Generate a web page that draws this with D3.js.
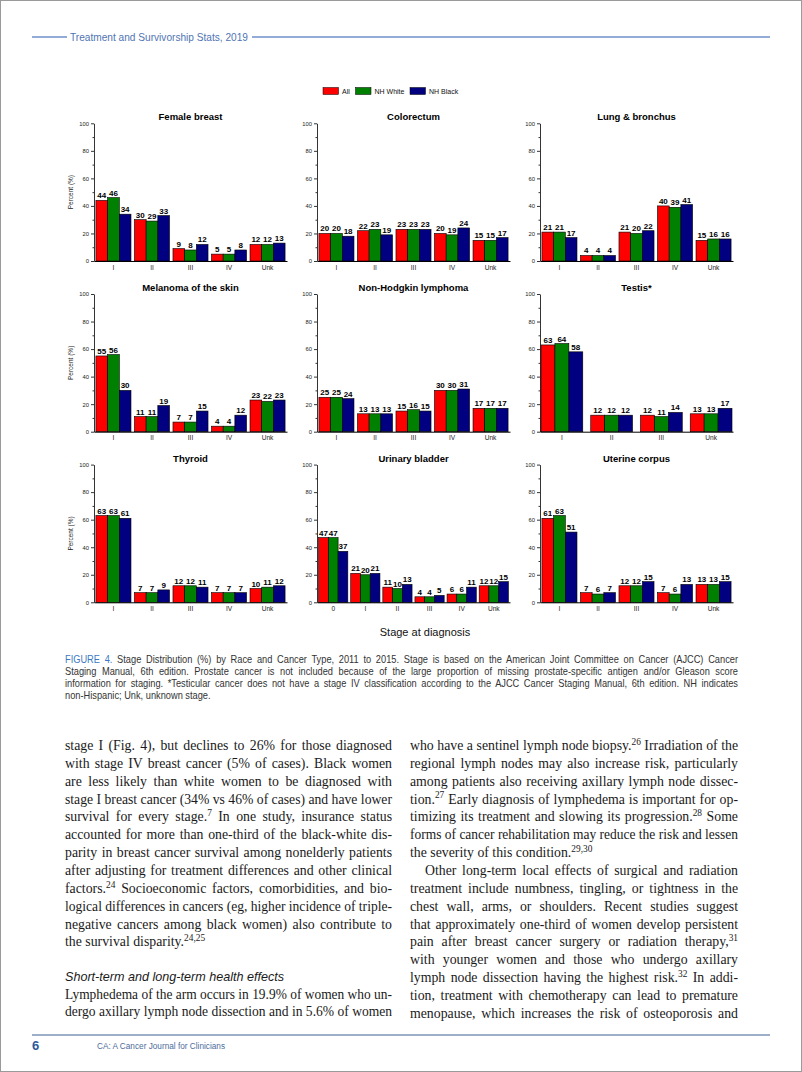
<!DOCTYPE html>
<html><head><meta charset="utf-8">
<script src="https://cdn.jsdelivr.net/npm/d3@7"></script>
<style>body{margin:0;background:#fff}svg{display:block}</style>
</head><body><svg id="page" width="802" height="1072"></svg>
<script>
// ---------- DATA ----------
const cancerTypes = ["Female breast","Colorectum","Lung & bronchus","Melanoma of the skin","Non-Hodgkin lymphoma","Testis*","Thyroid","Urinary bladder","Uterine corpus"];
const stages5 = ["I","II","III","IV","Unk"];
const stagesTestis = ["I","II","III","Unk"];
const stagesBladder = ["0","I","II","III","IV","Unk"];
const panelStages = [stages5, stages5, stages5, stages5, stages5, stagesTestis, stages5, stagesBladder, stages5];
const seriesNames = ["All","NH White","NH Black"];
const allValues = [
  [44,30,9,5,12],[20,22,23,20,15],[21,4,21,40,15],
  [55,11,7,4,23],[25,13,15,30,17],[63,12,12,13],
  [63,7,12,7,10],[47,21,11,4,6,12],[61,7,12,7,13]
];
const nhWhiteValues = [
  [46,29,8,5,12],[20,23,23,19,15],[21,4,20,39,16],
  [56,11,7,4,22],[25,13,16,30,17],[64,12,11,13],
  [63,7,12,7,11],[47,20,10,4,6,12],[63,6,12,6,13]
];
const nhBlackValues = [
  [34,33,12,8,13],[18,19,23,24,17],[17,4,22,41,16],
  [30,19,15,12,23],[24,13,15,31,17],[58,12,14,17],
  [61,9,11,7,12],[37,21,13,5,11,15],[51,7,15,13,15]
];
const yTicks = [0,20,40,60,80,100];
const yMinorTicks = [10,30,50,70,90];
const seriesColors = ["#ff0000","#008000","#000080"];

const headerText = "Treatment and Survivorship Stats, 2019";
const xAxisTitle = "Stage at diagnosis";
const yAxisTitle = "Percent (%)";
const captionLines = [
  "Stage Distribution (%) by Race and Cancer Type, 2011 to 2015. Stage is based on the American Joint Committee on Cancer (AJCC) Cancer",
  "Staging Manual, 6th edition. Prostate cancer is not included because of the large proportion of missing prostate-specific antigen and/or Gleason score",
  "information for staging. *Testicular cancer does not have a stage IV classification according to the AJCC Cancer Staging Manual, 6th edition. NH indicates",
  "non-Hispanic; Unk, unknown stage."
];
const leftColumn = [
  "stage I (Fig. 4), but declines to 26% for those diagnosed",
  "with stage IV breast cancer (5% of cases). Black women",
  "are less likely than white women to be diagnosed with",
  "stage I breast cancer (34% vs 46% of cases) and have lower",
  "survival for every stage.[7] In one study, insurance status",
  "accounted for more than one-third of the black-white dis-",
  "parity in breast cancer survival among nonelderly patients",
  "after adjusting for treatment differences and other clinical",
  "factors.[24] Socioeconomic factors, comorbidities, and bio-",
  "logical differences in cancers (eg, higher incidence of triple-",
  "negative cancers among black women) also contribute to",
  "the survival disparity.[24,25]"
];
const sectionHeading = "Short-term and long-term health effects";
const leftColumn2 = [
  "Lymphedema of the arm occurs in 19.9% of women who un-",
  "dergo axillary lymph node dissection and in 5.6% of women"
];
const rightColumn = [
  "who have a sentinel lymph node biopsy.[26] Irradiation of the",
  "regional lymph nodes may also increase risk, particularly",
  "among patients also receiving axillary lymph node dissec-",
  "tion.[27] Early diagnosis of lymphedema is important for op-",
  "timizing its treatment and slowing its progression.[28] Some",
  "forms of cancer rehabilitation may reduce the risk and lessen",
  "the severity of this condition.[29,30]",
  "Other long-term local effects of surgical and radiation",
  "treatment include numbness, tingling, or tightness in the",
  "chest wall, arms, or shoulders. Recent studies suggest",
  "that approximately one-third of women develop persistent",
  "pain after breast cancer surgery or radiation therapy,[31]",
  "with younger women and those who undergo axillary",
  "lymph node dissection having the highest risk.[32] In addi-",
  "tion, treatment with chemotherapy can lead to premature",
  "menopause, which increases the risk of osteoporosis and"
];
const footerPage = "6";
const footerJournal = "CA: A Cancer Journal for Clinicians";

// ---------- DRAW ----------
const svg = d3.select("#page");
const SANS = "'Liberation Sans', Arial, sans-serif";
const SERIF = "'Liberation Serif', 'Times New Roman', serif";

svg.append("rect").attr("x",0.5).attr("y",0.5).attr("width",801).attr("height",1071)
  .attr("fill","#fff").attr("stroke","#9a9a9a");

// header
const hdrColor = "#6f8fca";
svg.append("line").attr("x1",32).attr("x2",67).attr("y1",37).attr("y2",37).attr("stroke",hdrColor).attr("stroke-width",1.6);
svg.append("line").attr("x1",252).attr("x2",770).attr("y1",37).attr("y2",37).attr("stroke",hdrColor).attr("stroke-width",1.6);
svg.append("text").attr("x",70).attr("y",40.5).attr("font-family",SANS).attr("font-size",10.5)
  .attr("fill","#4f74b3").attr("textLength",178).attr("lengthAdjust","spacingAndGlyphs").text(headerText);

// legend
const legend = svg.append("g").attr("font-family",SANS).attr("font-size",7);
const legX = [323, 355.5, 410];
seriesNames.forEach((s,k)=>{
  legend.append("rect").attr("x",legX[k]).attr("y",87.5).attr("width",15.5).attr("height",7)
    .attr("fill",seriesColors[k]).attr("stroke","#000").attr("stroke-width",0.5);
  legend.append("text").attr("x",legX[k]+19).attr("y",93.8).attr("fill","#111").text(s);
});

// panels
const colX = [94, 317, 540];
const rowY0 = [261, 431.7, 602.3];
const plotW = 193, plotH = 137.7;
cancerTypes.forEach((name,i)=>{
  const c = i%3, r = Math.floor(i/3);
  const g = svg.append("g").attr("transform",`translate(${colX[c]},${rowY0[r]-plotH})`);
  const stages = panelStages[i];
  const x = d3.scaleBand().domain(stages).range([0,plotW])
    .paddingInner(stages.length===4 ? 0.16 : 0.09).paddingOuter(stages.length===4 ? 0.02 : 0.05);
  const xs = d3.scaleBand().domain(seriesNames).range([0,x.bandwidth()]);
  const y = d3.scaleLinear().domain([0,100]).range([plotH,0]);
  const vals = [allValues[i], nhWhiteValues[i], nhBlackValues[i]];

  g.append("text").attr("x",plotW/2).attr("y",-3).attr("text-anchor","middle")
    .attr("font-family",SANS).attr("font-weight","bold").attr("font-size",9.5).attr("fill","#000").text(name);

  const rows = [];
  stages.forEach((st,j)=>seriesNames.forEach((s,k)=>rows.push({st, s, k, v: vals[k][j]})));
  g.selectAll("rect.bar").data(rows).join("rect").attr("class","bar")
    .attr("x",d=>x(d.st)+xs(d.s)).attr("width",xs.bandwidth())
    .attr("y",d=>y(d.v)).attr("height",d=>plotH-y(d.v))
    .attr("fill",d=>seriesColors[d.k]).attr("stroke","#000").attr("stroke-width",0.6);
  g.selectAll("text.val").data(rows).join("text").attr("class","val")
    .attr("x",d=>x(d.st)+xs(d.s)+xs.bandwidth()/2).attr("y",d=>y(d.v)-2)
    .attr("text-anchor","middle").attr("font-family",SANS).attr("font-weight","bold")
    .attr("font-size",8).attr("fill","#000").text(d=>d.v);

  const ya = g.append("g").call(d3.axisLeft(y).tickValues(yTicks).tickSize(3).tickSizeOuter(0).tickPadding(2));
  const ym = g.append("g").call(d3.axisLeft(y).tickValues(yMinorTicks).tickSize(1.5).tickFormat(""));
  ym.select(".domain").remove();
  [ya,ym].forEach(a=>{a.selectAll("path,line").attr("stroke","#000").attr("stroke-width",0.8);});
  ya.selectAll("text").attr("font-family",SANS).attr("font-size",5.8).attr("fill","#222");

  const xa = g.append("g").attr("transform",`translate(0,${plotH})`)
    .call(d3.axisBottom(x).tickSize(0).tickSizeOuter(0).tickPadding(4));
  xa.select(".domain").attr("stroke","#000").attr("stroke-width",1);
  xa.selectAll("text").attr("font-family",SANS).attr("font-size",6.6).attr("fill","#222");

  if (c===0) {
    g.append("text").attr("transform",`translate(-21,${plotH/2}) rotate(-90)`).attr("text-anchor","middle")
      .attr("font-family",SANS).attr("font-size",6.5).attr("fill","#222").text(yAxisTitle);
  }
});

svg.append("text").attr("x",425).attr("y",636).attr("text-anchor","middle")
  .attr("font-family",SANS).attr("font-size",11).attr("fill","#111").text(xAxisTitle);

// rich / justified text
function richLine(parent, str, x, y, opts){
  const t = parent.append("text").attr("x",x).attr("y",y)
    .attr("font-family",opts.family).attr("font-size",opts.size).attr("fill",opts.fill)
    .attr("font-style",opts.style||null).attr("font-weight",opts.weight||null);
  if (opts.prefix){
    t.append("tspan").attr("fill",opts.prefix.fill).text(opts.prefix.text);
  }
  const parts = str.split(/\[([^\]]+)\]/);
  let shift = 0;
  parts.forEach((p,k)=>{
    if (!p) return;
    if (k%2===1){
      t.append("tspan").attr("dy",-opts.size*0.38).attr("font-size",opts.size*0.68).text(p);
      shift = opts.size*0.38;
    } else {
      const ts = t.append("tspan").text(p);
      if (shift){ ts.attr("dy",shift); shift=0; }
    }
  });
  const natural = t.node().getComputedTextLength();
  if (opts.width){
    if (natural > opts.width){
      t.attr("textLength",opts.width).attr("lengthAdjust","spacingAndGlyphs");
    } else {
      const full = (opts.prefix?opts.prefix.text:"")+str.replace(/\[[^\]]+\]/g,"");
      const spaces = (full.match(/ /g)||[]).length;
      if (spaces>0) t.attr("word-spacing",(opts.width-natural)/spaces);
    }
  }
  return t;
}

// caption (condensed face emulated by horizontal scaling)
const capScale = 0.9;
captionLines.forEach((ln,k)=>{
  const cg = svg.append("g").attr("transform",`translate(65,${662.5+k*12}) scale(${capScale},1)`);
  const o = {family:SANS, size:10.3, fill:"#333"};
  if (k<3) o.width = 673/capScale;
  if (k===0) o.prefix = {text:"FIGURE 4. ", fill:"#3c78c3"};
  richLine(cg, ln, 0, 0, o);
});

// body text
const bodyOpts = {family:SERIF, size:13.8, fill:"#1a1a1a"};
const lh = 17.85;
leftColumn.forEach((ln,k)=>{
  const o = Object.assign({},bodyOpts);
  if (k<leftColumn.length-1) o.width = 327;
  richLine(svg, ln, 65, 750+k*lh, o);
});
svg.append("text").attr("x",65).attr("y",980.5).attr("font-family",SANS).attr("font-style","italic")
  .attr("font-size",12.6).attr("fill","#1a1a1a").text(sectionHeading);
leftColumn2.forEach((ln,k)=>{
  const o = Object.assign({},bodyOpts, {width:327});
  richLine(svg, ln, 65, 998.5+k*lh, o);
});
rightColumn.forEach((ln,k)=>{
  const o = Object.assign({},bodyOpts);
  const indent = (k===7) ? 15 : 0;
  if (k!==6) o.width = 328-indent;
  richLine(svg, ln, 410+indent, 750+k*lh, o);
});

// footer
svg.append("line").attr("x1",32).attr("x2",770).attr("y1",1035).attr("y2",1035)
  .attr("stroke","#7d93b8").attr("stroke-width",1.6);
svg.append("text").attr("x",32).attr("y",1050).attr("font-family",SANS).attr("font-weight","bold")
  .attr("font-size",13).attr("fill","#2d5a9c").text(footerPage);
svg.append("text").attr("x",97).attr("y",1049).attr("font-family",SANS)
  .attr("font-size",8.5).attr("fill","#4d6c9c").attr("textLength",128).attr("lengthAdjust","spacingAndGlyphs").text(footerJournal);
</script></body></html>
